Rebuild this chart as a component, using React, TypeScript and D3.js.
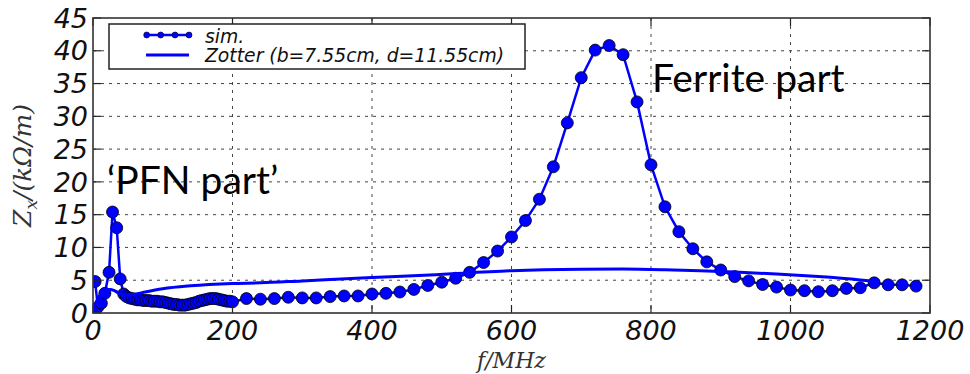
import React from "react";
import * as d3 from "d3";

// Simulated longitudinal impedance, PFN region (dense sweep), MHz / kOhm/m
const pfnFreq = [3, 7, 12, 17, 23, 28, 34, 39, 44, 48, 52, 56, 60, 64, 68, 72, 76, 80, 84, 88, 92, 96, 100, 104, 108, 112, 116, 120, 124, 128, 132, 136, 140, 144, 148, 152, 156, 160, 164, 168, 172, 176, 180, 184, 188, 192, 196, 200];
const pfnZ = [4.8, 0.9, 1.5, 3.0, 6.2, 15.4, 13.0, 5.2, 2.9, 2.5, 2.3, 2.2, 2.1, 2.0, 2.0, 1.9, 1.9, 1.9, 1.8, 1.8, 1.8, 1.7, 1.7, 1.6, 1.5, 1.4, 1.3, 1.3, 1.2, 1.2, 1.2, 1.3, 1.4, 1.5, 1.6, 1.8, 1.9, 2.0, 2.1, 2.2, 2.2, 2.2, 2.1, 2.0, 1.9, 1.8, 1.8, 1.7];

// Simulated impedance, coarse sweep through the ferrite resonance
const bandFreq = [220, 240, 260, 280, 300, 320, 340, 360, 380, 400, 420, 440, 460, 480, 500, 520, 540, 560, 580, 600, 620, 640, 660, 680, 700, 720, 740, 760, 780, 800, 820, 840, 860, 880, 900, 920, 940, 960, 980, 1000, 1020, 1040, 1060, 1080, 1100, 1120, 1140, 1160, 1180];
const bandZ = [2.2, 2.1, 2.2, 2.4, 2.3, 2.3, 2.5, 2.6, 2.6, 2.9, 3.0, 3.2, 3.6, 4.2, 4.7, 5.3, 6.2, 7.7, 9.45, 11.6, 14.1, 17.35, 22.3, 29.0, 35.9, 40.1, 40.8, 39.4, 32.2, 22.6, 16.2, 12.4, 9.8, 7.8, 6.56, 5.55, 4.9, 4.35, 3.95, 3.5, 3.4, 3.25, 3.4, 3.75, 3.85, 4.6, 4.3, 4.3, 4.1];

// Analytic (Zotter) impedance curve
const zotterFreq = [0, 4, 8, 12, 16, 20, 25, 30, 36, 42, 50, 60, 75, 100, 140, 200, 240, 300, 400, 483, 600, 700, 760, 820, 870, 920, 980, 1040, 1100, 1120];
const zotterZ = [0, 1.4, 2.4, 3.0, 3.4, 3.55, 3.6, 3.45, 3.1, 2.85, 2.75, 2.85, 3.2, 3.7, 4.15, 4.5, 4.6, 4.9, 5.4, 5.8, 6.45, 6.67, 6.7, 6.6, 6.45, 6.25, 5.95, 5.55, 5.05, 4.85];

const xTicks = [0, 200, 400, 600, 800, 1000, 1200];
const yTicks = [0, 5, 10, 15, 20, 25, 30, 35, 40, 45];

const W = 970;
const H = 374;
const left = 93, right = 930, top = 18, bottom = 313;
const BLUE = "#0000ff";

export default function App() {
  const x = d3.scaleLinear().domain([0, 1200]).range([left, right]);
  const y = d3.scaleLinear().domain([0, 45]).range([bottom, top]);

  const sim = [
    ...pfnFreq.map((f, i) => [f, pfnZ[i]] as [number, number]),
    ...bandFreq.map((f, i) => [f, bandZ[i]] as [number, number]),
  ];
  const zotter = zotterFreq.map((f, i) => [f, zotterZ[i]] as [number, number]);

  const simLine = d3.line<[number, number]>().x((d) => x(d[0])).y((d) => y(d[1]));
  const zotterLine = d3
    .line<[number, number]>()
    .x((d) => x(d[0]))
    .y((d) => y(d[1]))
    .curve(d3.curveMonotoneX);

  const tickFont = { fontFamily: "DejaVu Sans", fontStyle: "italic", fontSize: 27, fill: "#111" } as const;
  const mathFont = { fontFamily: "DejaVu Serif", fontStyle: "italic", fontSize: 25, fill: "#333" } as const;
  const noteFont = { fontFamily: "Lato", fontSize: 39, fill: "#000" } as const;

  return (
    <svg width={W} height={H} style={{ position: "absolute", left: 0, top: 0, background: "#fff" }}>
      <defs>
        <clipPath id="plot-area">
          <rect x={left} y={top} width={right - left} height={bottom - top} />
        </clipPath>
      </defs>

      {/* dotted grid */}
      <g stroke="#444" strokeWidth={1} strokeDasharray="3,5">
        {xTicks.slice(1, -1).map((t) => (
          <line key={"gx" + t} x1={x(t)} x2={x(t)} y1={top} y2={bottom} />
        ))}
        {yTicks.slice(1, -1).map((t) => (
          <line key={"gy" + t} x1={left} x2={right} y1={y(t)} y2={y(t)} />
        ))}
      </g>

      {/* series */}
      <g clipPath="url(#plot-area)">
        <path d={simLine(sim) ?? ""} fill="none" stroke={BLUE} strokeWidth={2.5} />
        {sim.map((d, i) => (
          <circle key={"m" + i} cx={x(d[0])} cy={y(d[1])} r={6} fill={BLUE} stroke="#000" strokeWidth={0.8} />
        ))}
        <path d={zotterLine(zotter) ?? ""} fill="none" stroke={BLUE} strokeWidth={3} />
      </g>

      {/* inward ticks on all sides */}
      <g stroke="#222" strokeWidth={1.2}>
        {xTicks.map((t) => (
          <g key={"tx" + t}>
            <line x1={x(t)} x2={x(t)} y1={bottom} y2={bottom - 8} />
            <line x1={x(t)} x2={x(t)} y1={top} y2={top + 8} />
          </g>
        ))}
        {yTicks.map((t) => (
          <g key={"ty" + t}>
            <line x1={left} x2={left + 8} y1={y(t)} y2={y(t)} />
            <line x1={right} x2={right - 8} y1={y(t)} y2={y(t)} />
          </g>
        ))}
      </g>

      {/* frame */}
      <rect x={left} y={top} width={right - left} height={bottom - top} fill="none" stroke="#333" strokeWidth={1.6} />

      {/* tick labels */}
      {xTicks.map((t) => (
        <text key={"lx" + t} x={x(t)} y={bottom + 27} textAnchor="middle" {...tickFont}>
          {t}
        </text>
      ))}
      {yTicks.map((t) => (
        <text key={"ly" + t} x={left - 5} y={y(t)} dy="0.36em" textAnchor="end" {...tickFont}>
          {t}
        </text>
      ))}

      {/* axis titles */}
      <text x={(left + right) / 2} y={368} textAnchor="middle" {...mathFont} fontSize={22}>
        f/MHz
      </text>
      <text transform={`translate(31, ${(top + bottom) / 2}) rotate(-90)`} textAnchor="middle" {...mathFont}>
        <tspan>Z</tspan>
        <tspan fontSize={17} dy={6}>x</tspan>
        <tspan dy={-6}>/(kΩ/m)</tspan>
      </text>

      {/* legend */}
      <g>
        <rect x={109} y={24} width={416} height={45} fill="#fff" stroke="#222" strokeWidth={1.5} />
        <line x1={146} x2={189} y1={35} y2={35} stroke={BLUE} strokeWidth={2.5} />
        {[146.7, 160.7, 175, 189].map((cx) => (
          <circle key={"lg" + cx} cx={cx} cy={35} r={3} fill={BLUE} stroke="#000" strokeWidth={0.6} />
        ))}
        <line x1={146} x2={189} y1={55} y2={55} stroke={BLUE} strokeWidth={3} />
        <text x={205} y={43} fontFamily="DejaVu Sans" fontStyle="italic" fontSize={18.8} fill="#111">
          sim.
        </text>
        <text x={205} y={62} fontFamily="DejaVu Sans" fontStyle="italic" fontSize={18.8} fill="#111">
          Zotter (b=7.55cm, d=11.55cm)
        </text>
      </g>

      {/* region annotations */}
      <text x={652} y={92} {...noteFont}>
        Ferrite part
      </text>
      <text x={107} y={194} {...noteFont}>
        ‘PFN part’
      </text>
    </svg>
  );
}
